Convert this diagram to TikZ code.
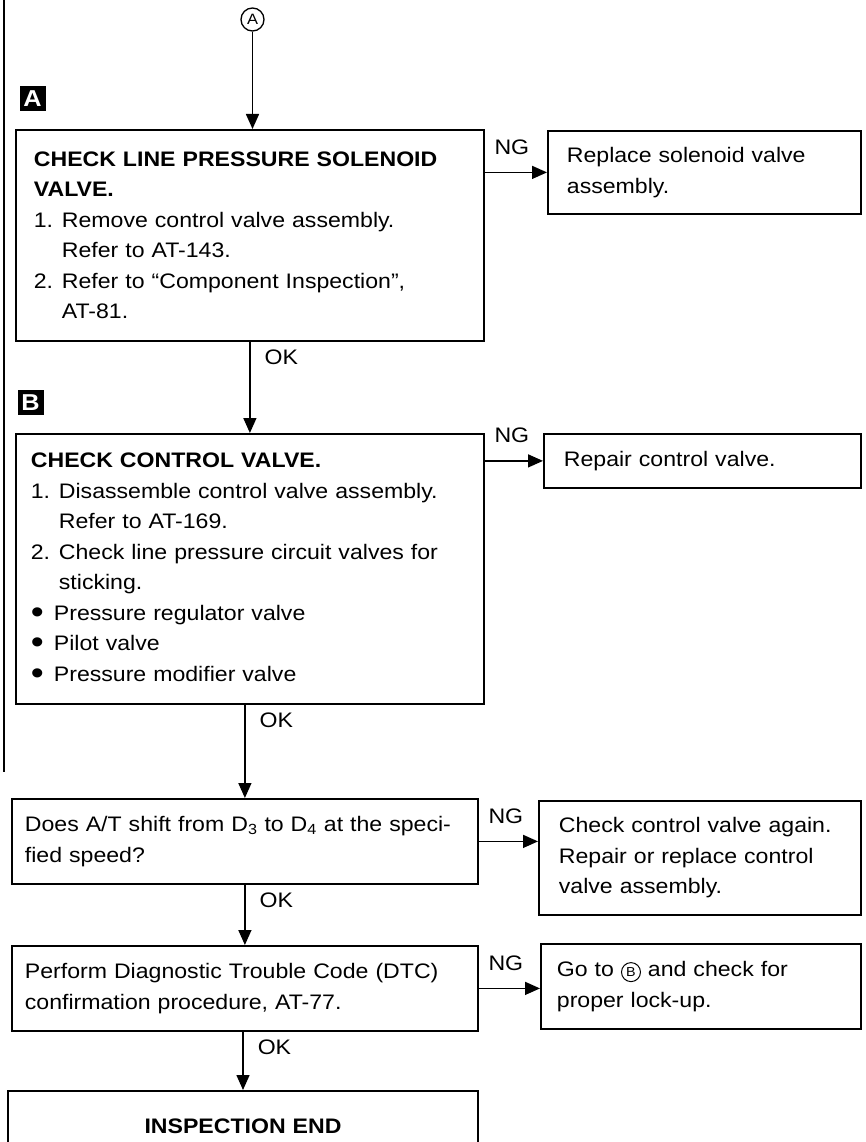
\documentclass[tikz,border=0pt]{standalone}
\usepackage{fontspec}
\setmainfont[FakeStretch=1.1]{Liberation Sans}
\usetikzlibrary{arrows.meta}

\newcommand{\nr}[1]{\makebox[28pt][l]{#1}}
\newcommand{\ind}{\hspace*{28pt}}
\newcommand{\bul}{\makebox[23pt][l]{\raisebox{-3pt}{\scalebox{1.6}{\textbullet}}}}
\newcommand{\circB}{\tikz[baseline=(cb.base)]\node[circle, draw, line width=1pt, minimum size=19pt, inner sep=0pt, font=\fontsize{13}{13}\selectfont] (cb) {B};}

\begin{document}
\begin{tikzpicture} %line pressure check
      [
      x=1pt, y=-1pt,
      box/.style={draw, line width=1.8pt, anchor=north west, align=left, inner ysep=0pt, font=\fontsize{21}{30.5}\selectfont},
      arr/.style={line width=1.5pt, -{Triangle[length=15pt, width=13pt]}},
      boxtag/.style={fill=black, text=white, minimum width=26pt, minimum height=25pt, inner sep=0pt, font=\fontsize{23}{23}\selectfont\bfseries},
      nglab/.style={pos=0, anchor=south west, inner sep=0pt, xshift=9pt, yshift=17pt, font=\fontsize{21}{21}\selectfont},
      oklab/.style={pos=0, anchor=north west, inner sep=0pt, xshift=14pt, yshift=-7pt, font=\fontsize{21}{21}\selectfont}
      ]
      \useasboundingbox (0,0) rectangle (866,1142);
      \clip (0,0) rectangle (866,1142);
      \draw[line width=1.2pt] (4,0) -- (4,772);

      \node[circle, draw, line width=1.3pt, minimum size=23pt, inner sep=0pt, font=\fontsize{15}{15}\selectfont] (s) at (252.5,19.5) {A};
      \node[boxtag] (ta) at (32.5,99) {A};
      \node[boxtag] (tb) at (30.5,402.5) {B};

      \node[box, inner xsep=18pt, text width=432pt, minimum height=211pt] (a) at (15,129)
        {\textbf{CHECK LINE PRESSURE SOLENOID}\\
         \textbf{VALVE.}\\
         \nr{1.}Remove control valve assembly.\\
         \ind Refer to AT-143.\\
         \nr{2.}Refer to “Component Inspection”,\\
         \ind AT-81.};
      \node[box, inner xsep=15pt, text width=438pt, minimum height=270pt] (b) at (15,433)
        {\textbf{CHECK CONTROL VALVE.}\\
         \nr{1.}Disassemble control valve assembly.\\
         \ind Refer to AT-169.\\
         \nr{2.}Check line pressure circuit valves for\\
         \ind sticking.\\
         \bul Pressure regulator valve\\
         \bul Pilot valve\\
         \bul Pressure modifier valve};
      \node[box, inner xsep=13pt, text width=440pt, minimum height=85pt] (c) at (11,798)
        {Does A/T shift from D\textsubscript{3} to D\textsubscript{4} at the speci-\\
         fied speed?};
      \node[box, inner xsep=13pt, text width=440pt, minimum height=85pt] (d) at (11,945)
        {Perform Diagnostic Trouble Code (DTC)\\
         confirmation procedure, AT-77.};
      \node[box, anchor=north, align=center, inner xsep=0pt, text width=470pt, minimum height=70pt] (e) at (243,1090)
        {\textbf{INSPECTION END}};

      \node[box, inner xsep=19pt, text width=275pt, minimum height=83pt] (ra) at (547,130)
        {Replace solenoid valve\\
         assembly.};
      \node[box, inner xsep=20pt, text width=277pt, minimum height=54pt] (rb) at (543,433)
        {Repair control valve.};
      \node[box, inner xsep=20pt, text width=282pt, minimum height=114pt] (rc) at (538,800)
        {Check control valve again.\\
         Repair or replace control\\
         valve assembly.};
      \node[box, inner xsep=16pt, text width=288pt, minimum height=85pt] (rd) at (540,943)
        {Go to \circB\ and check for\\
         proper lock-up.};

      \begin{scope}[arr]
        \draw (s) -- (s |- a.north);
        \draw (a.south) -- node[oklab] {OK} (b.north);
        \draw (b.south -| c.north) -- node[oklab] {OK} (c.north);
        \draw (c.south) -- node[oklab] {OK} (d.north);
        \draw (d.south -| e.north) -- node[oklab] {OK} (e.north);
      \end{scope}
      \begin{scope}[arr]
        \draw (a.east |- ra.west) -- node[nglab] {NG} (ra.west);
        \draw (b.east |- rb.west) -- node[nglab] {NG} (rb.west);
        \draw (c.east) -- node[nglab] {NG} (c.east -| rc.west);
        \draw (d.east) -- node[nglab] {NG} (d.east -| rd.west);
      \end{scope}
\end{tikzpicture}
\end{document}
